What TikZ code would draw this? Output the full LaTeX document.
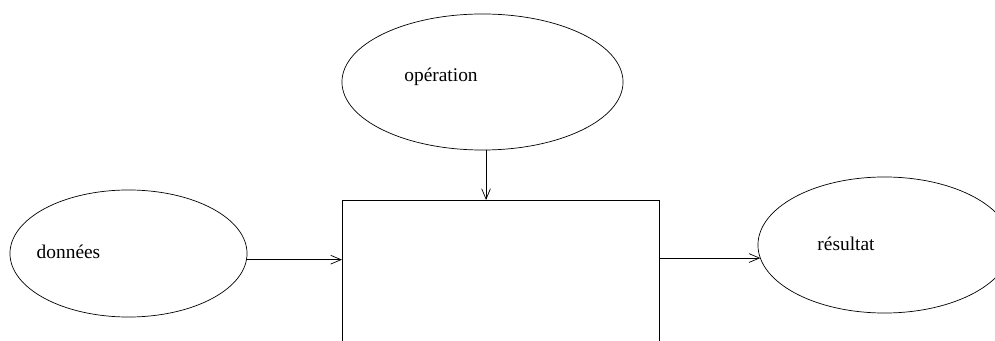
\documentclass[tikz,border=0pt]{standalone}
\usepackage{fontspec}
\setmainfont{Liberation Serif}
\usepackage{tikz}
\usetikzlibrary{arrows.meta,shapes.geometric}

\begin{document}
\begin{tikzpicture}[
  x=0.025cm,y=-0.025cm,
  oval/.style={draw,ellipse,inner sep=0pt,outer sep=0pt},
  box/.style={draw,rectangle,inner sep=0pt,outer sep=0pt,minimum width=7.925cm,minimum height=5cm},
  txt/.style={font=\fontsize{13.8}{16}\selectfont},
  arr/.style={-{Straight Barb[length=2.6mm,width=2.2mm]},line width=0.5pt},
  line width=0.5pt
]
\useasboundingbox (0,0) rectangle (995,341);
\clip (0,0) rectangle (995,341);

\node[oval,minimum width=7.025cm,minimum height=3.4cm] (op) at (482.5,82) {};
\node[oval,minimum width=5.925cm,minimum height=3.175cm] (don) at (128.5,253.5) {};
\node[oval,minimum width=6.325cm,minimum height=3.4cm] (res) at (884.5,245) {};
\node[box] (proc) at (500.5,300) {};

\node[txt] (opl) at (441,77) {opération};
\node[txt] (donl) at (68.5,252) {données};
\node[txt] (resl) at (846,244) {résultat};

\draw[arr] (op.-87) -- (op.-87 |- proc.north);
\draw[arr] (don.-3) -- (don.-3 -| proc.west);
\draw[arr] (res.186 -| proc.east) -- (res.186);
\end{tikzpicture}
\end{document}
